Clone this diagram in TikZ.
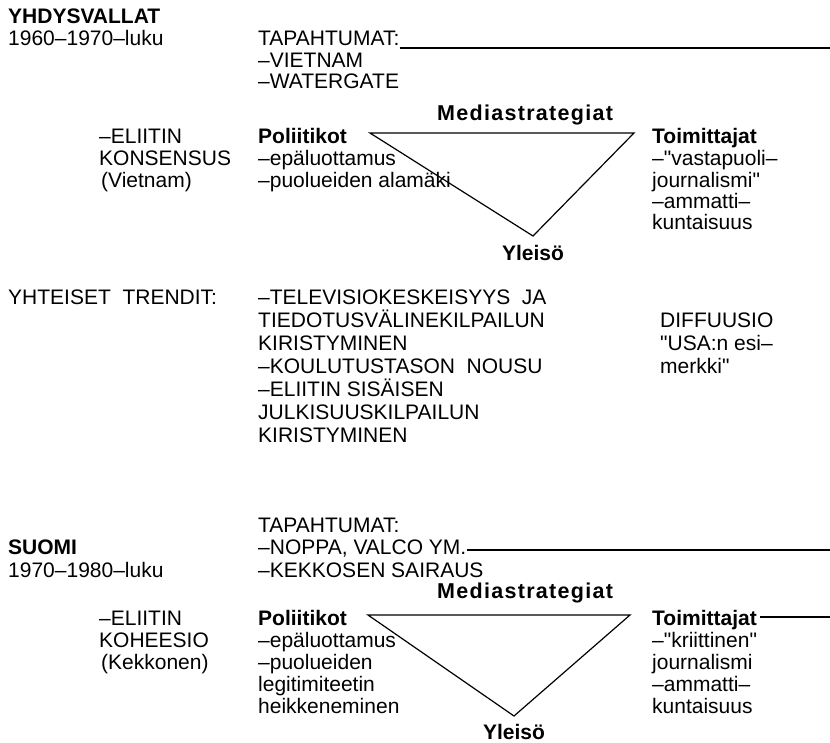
\documentclass[tikz,border=0pt]{standalone}
\usepackage{fontspec}
\setmainfont{Liberation Sans}[Ligatures=TeXOff]
\newfontfamily\spacedbf{Liberation Sans}[Ligatures=TeXOff,LetterSpace=6]
\begin{document}
\begin{tikzpicture}[x=1pt,y=-1pt,
  every node/.style={inner sep=0pt, anchor=base west, font=\fontsize{21}{21}\selectfont},
  bf/.style={font=\fontsize{21}{21}\selectfont\bfseries},
  msb/.style={font=\fontsize{21.5}{21}\spacedbf\bfseries},
  ln/.style={line width=1.1pt},
  tri/.style={line width=1.2pt, line join=miter}]
\useasboundingbox (0,0) rectangle (830,742);

% ---------- YHDYSVALLAT ----------
\node[bf] (us1) at (8,23) {YHDYSVALLAT};
\node (us2) at (8,45) {1960–1970–luku};
\node (ta1) at (258,45) {TAPAHTUMAT:};
\node (ta2) at (258,67) {–VIETNAM};
\node (ta3) at (258,88) {–WATERGATE};
\coordinate (e1) at (830,48);
\draw[ln] (ta1.east |- e1) -- (e1);

\node[msb] (ms1) at (437,120) {Mediastrategiat};
\node (el1) at (99,143) {–ELIITIN};
\node (el2) at (99,165) {KONSENSUS};
\node (el3) at (101,187) {(Vietnam)};
\node[bf] (po1) at (258,143) {Poliitikot};
\node (po2) at (258,165) {–epäluottamus};
\node (po3) at (258,187) {–puolueiden alamäki};
\coordinate (t1a) at (370,133);
\coordinate (t1b) at (634,133);
\coordinate (t1c) at (533,236);
\draw[tri] (t1a) -- (t1b) -- (t1c) -- cycle;
\node[bf, anchor=base] (yl1) at (533,260) {Yleisö};
\node[bf] (to1) at (652,143) {Toimittajat};
\node (to2) at (652,165) {–"vastapuoli–};
\node (to3) at (652,187) {journalismi"};
\node (to4) at (652,208) {–ammatti–};
\node (to5) at (652,229) {kuntaisuus};

% ---------- YHTEISET TRENDIT ----------
\node (yt) at (8,304) {YHTEISET\ \ TRENDIT:};
\node (tr1) at (258,304) {–TELEVISIOKESKEISYYS\ \ JA};
\node (tr2) at (258,327) {TIEDOTUSVÄLINEKILPAILUN};
\node (tr3) at (258,350) {KIRISTYMINEN};
\node (tr4) at (258,373) {–KOULUTUSTASON\ \ NOUSU};
\node (tr5) at (258,396) {–ELIITIN SISÄISEN};
\node (tr6) at (258,419) {JULKISUUSKILPAILUN};
\node (tr7) at (258,442) {KIRISTYMINEN};
\node (di1) at (660,327) {DIFFUUSIO};
\node (di2) at (660,350) {"USA:n esi–};
\node (di3) at (660,373) {merkki"};

% ---------- SUOMI ----------
\node (tb1) at (258,532) {TAPAHTUMAT:};
\node[bf] (fi1) at (8,554) {SUOMI};
\node (fi2) at (8,577) {1970–1980–luku};
\node (tb2) at (258,554) {–NOPPA, VALCO YM.};
\node (tb3) at (258,577) {–KEKKOSEN SAIRAUS};
\coordinate (e2) at (830,550);
\draw[ln] (tb2.east |- e2) -- (e2);

\node[msb] (ms2) at (437,598) {Mediastrategiat};
\node (ek1) at (99,625) {–ELIITIN};
\node (ek2) at (99,647) {KOHEESIO};
\node (ek3) at (101,669) {(Kekkonen)};
\node[bf] (pb1) at (258,625) {Poliitikot};
\node (pb2) at (258,647) {–epäluottamus};
\node (pb3) at (258,669) {–puolueiden};
\node (pb4) at (258,691) {legitimiteetin};
\node (pb5) at (258,713) {heikkeneminen};
\coordinate (t2a) at (368,615);
\coordinate (t2b) at (630,615);
\coordinate (t2c) at (514,716);
\draw[tri] (t2a) -- (t2b) -- (t2c) -- cycle;
\node[bf, anchor=base] (yl2) at (514,739) {Yleisö};
\node[bf] (tk1) at (652,625) {Toimittajat};
\coordinate (e3) at (830,617);
\draw[ln] ([xshift=3pt]tk1.east |- e3) -- (e3);
\node (tk2) at (652,647) {–"kriittinen"};
\node (tk3) at (652,669) {journalismi};
\node (tk4) at (652,691) {–ammatti–};
\node (tk5) at (652,713) {kuntaisuus};
\end{tikzpicture}
\end{document}
